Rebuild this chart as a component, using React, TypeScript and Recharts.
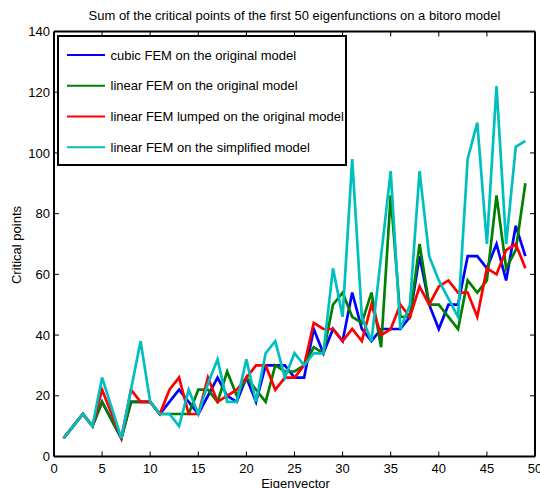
import React from "react";
import { LineChart, Line, XAxis, YAxis, Legend } from "recharts";

const eigenvector = [
  1, 2, 3, 4, 5, 6, 7, 8, 9, 10, 11, 12, 13, 14, 15, 16, 17, 18, 19, 20, 21, 22, 23, 24, 25,
  26, 27, 28, 29, 30, 31, 32, 33, 34, 35, 36, 37, 38, 39, 40, 41, 42, 43, 44, 45, 46, 47, 48, 49,
];
const cubicFEM = [
  6, 10, 14, 10, 18, 12, 6, 18, 18, 18, 14, 18, 22, 18, 14, 20, 26, 20, 18, 26, 18, 30, 30, 30, 26,
  26, 42, 34, 42, 38, 54, 42, 38, 42, 42, 42, 46, 66, 50, 42, 50, 50, 66, 66, 62, 70, 58, 76, 66,
];
const linearFEM = [
  6, 10, 14, 10, 18, 12, 6, 18, 18, 18, 14, 14, 14, 14, 22, 22, 18, 28, 20, 26, 22, 18, 30, 28, 28,
  30, 36, 34, 50, 54, 46, 44, 54, 36, 86, 46, 46, 70, 50, 50, 46, 42, 58, 54, 58, 86, 62, 68, 90,
];
const lumpedFEM = [
  6, 10, 14, 10, 22, 14, 6, 22, 18, 18, 14, 22, 26, 14, 14, 26, 18, 20, 22, 26, 30, 30, 22, 26, 26,
  30, 44, 42, 42, 38, 42, 38, 50, 40, 42, 50, 46, 56, 50, 56, 58, 54, 54, 46, 62, 60, 68, 70, 62,
];
const simplifiedFEM = [
  6, 10, 14, 10, 26, 16, 6, 22, 38, 18, 14, 14, 10, 22, 14, 24, 32, 18, 18, 32, 18, 34, 38, 26, 34,
  30, 34, 34, 62, 46, 98, 46, 38, 66, 94, 42, 50, 94, 66, 58, 52, 46, 98, 110, 70, 122, 70, 102, 104,
];

const xTicks = [0, 5, 10, 15, 20, 25, 30, 35, 40, 45, 50];
const yTicks = [0, 20, 40, 60, 80, 100, 120, 140];

const seriesKeys = ["cubic", "linear", "lumped", "simplified"];
const seriesNames = [
  "cubic FEM on the original model",
  "linear FEM on the original model",
  "linear FEM lumped on the original model",
  "linear FEM on the simplified model",
];
const seriesColors = ["#0000ff", "#008000", "#ff0000", "#00bfbf"];

const titleText = "Sum of the critical points of the first 50 eigenfunctions on a bitoro model";
const xLabel = "Eigenvector";
const yLabel = "Critical points";

const data = eigenvector.map((x, i) => ({
  x,
  cubic: cubicFEM[i],
  linear: linearFEM[i],
  lumped: lumpedFEM[i],
  simplified: simplifiedFEM[i],
}));

const FONT = "'Liberation Sans', Arial, Helvetica, sans-serif";
const TICK_LEN = 5;

const BottomTick = (props: any) => {
  const { x, y, payload } = props;
  return (
    <g>
      <line x1={x} x2={x} y1={y} y2={y - TICK_LEN} stroke="#000" strokeWidth={1} />
      <text x={x} y={y + 16.5} textAnchor="middle" fontSize={13} fontFamily={FONT} fill="#000">
        {payload.value}
      </text>
    </g>
  );
};

const TopTick = (props: any) => {
  const { x, y } = props;
  return <line x1={x} x2={x} y1={y} y2={y + TICK_LEN} stroke="#000" strokeWidth={1} />;
};

const LeftTick = (props: any) => {
  const { x, y, payload } = props;
  return (
    <g>
      <line x1={x} x2={x + TICK_LEN} y1={y} y2={y} stroke="#000" strokeWidth={1} />
      <text x={x - 4} y={y + 4.6} textAnchor="end" fontSize={13} fontFamily={FONT} fill="#000">
        {payload.value}
      </text>
    </g>
  );
};

const RightTick = (props: any) => {
  const { x, y } = props;
  return <line x1={x} x2={x - TICK_LEN} y1={y} y2={y} stroke="#000" strokeWidth={1} />;
};

const LegendBox = () => (
  <svg width={290} height={131} style={{ display: "block" }}>
    <rect x={1} y={1} width={288} height={129} fill="#fff" stroke="#000" strokeWidth={2} />
    {seriesNames.map((name, i) => {
      const cy = 20 + i * 30.75;
      return (
        <g key={name}>
          <line x1={10} x2={48} y1={cy} y2={cy} stroke={seriesColors[i]} strokeWidth={2.2} />
          <text x={53.5} y={cy + 4.6} fontSize={13} fontFamily={FONT} fill="#000">
            {name}
          </text>
        </g>
      );
    })}
  </svg>
);

const axisLineStyle = { stroke: "#000", strokeWidth: 2 };

export default function App() {
  return (
    <div style={{ position: "absolute", left: 0, top: 0, width: 540, height: 488, background: "#fff" }}>
      <LineChart
        width={540}
        height={488}
        data={data}
        margin={{ top: 21.5, right: 0, bottom: 0, left: 0 }}
      >
        <XAxis
          xAxisId="b"
          type="number"
          dataKey="x"
          domain={[0, 50]}
          ticks={xTicks}
          interval={0}
          height={31.5}
          tickSize={0}
          tickMargin={0}
          tickLine={false}
          axisLine={axisLineStyle}
          tick={<BottomTick />}
          allowDataOverflow
        />
        <XAxis
          xAxisId="t"
          orientation="top"
          type="number"
          dataKey="x"
          domain={[0, 50]}
          ticks={xTicks}
          interval={0}
          height={10}
          tickSize={0}
          tickMargin={0}
          tickLine={false}
          axisLine={axisLineStyle}
          tick={<TopTick />}
          allowDataOverflow
        />
        <YAxis
          yAxisId="l"
          type="number"
          domain={[0, 140]}
          ticks={yTicks}
          interval={0}
          width={54}
          tickSize={0}
          tickMargin={0}
          tickLine={false}
          axisLine={axisLineStyle}
          tick={<LeftTick />}
          allowDataOverflow
        />
        <YAxis
          yAxisId="r"
          orientation="right"
          type="number"
          domain={[0, 140]}
          ticks={yTicks}
          interval={0}
          width={5}
          tickSize={0}
          tickMargin={0}
          tickLine={false}
          axisLine={axisLineStyle}
          tick={<RightTick />}
          allowDataOverflow
        />
        {seriesKeys.map((k, i) => (
          <Line
            key={k}
            xAxisId="b"
            yAxisId="l"
            type="linear"
            dataKey={k}
            name={seriesNames[i]}
            stroke={seriesColors[i]}
            strokeWidth={2.7}
            dot={false}
            activeDot={false}
            isAnimationActive={false}
          />
        ))}
        <Legend
          layout="horizontal"
          verticalAlign="middle"
          align="center"
          content={<LegendBox />}
          wrapperStyle={{ left: 57, top: 35, width: 290, height: 131 }}
        />
      </LineChart>
      <svg
        width={540}
        height={488}
        style={{ position: "absolute", left: 0, top: 0, pointerEvents: "none" }}
      >
        <text x={294.5} y={20} textAnchor="middle" fontSize={13} fontFamily={FONT} fill="#000">
          {titleText}
        </text>
        <text
          transform="translate(20.5,245) rotate(-90)"
          textAnchor="middle"
          fontSize={13}
          fontFamily={FONT}
          fill="#000"
        >
          {yLabel}
        </text>
        <text x={295.5} y={488} textAnchor="middle" fontSize={13} fontFamily={FONT} fill="#000">
          {xLabel}
        </text>
      </svg>
    </div>
  );
}
